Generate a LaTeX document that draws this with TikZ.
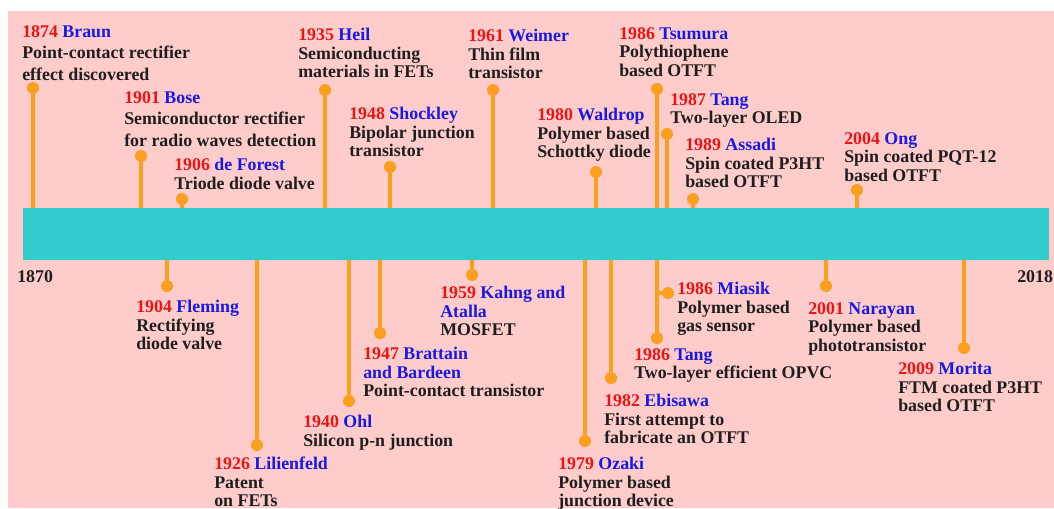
\documentclass[tikz,border=0pt]{standalone}
\usepackage{fontspec}
\setmainfont{Liberation Serif}
\usetikzlibrary{positioning}
\definecolor{pagebg}{RGB}{255,204,204}
\definecolor{barclr}{RGB}{51,204,204}
\definecolor{stemclr}{RGB}{250,160,30}
\definecolor{yrclr}{RGB}{235,20,20}
\definecolor{nameclr}{RGB}{25,25,225}
\definecolor{txtclr}{RGB}{30,30,30}
\newcommand{\evfont}{\fontsize{12.7}{13.2}\selectfont\bfseries}
\newcommand{\evfontw}{\fontsize{12.7}{15.3}\selectfont\bfseries}
\newcommand{\evhead}[2]{\textcolor{yrclr}{#1} \textcolor{nameclr}{#2}}
\tikzset{
  evdot/.style={circle,fill=stemclr,inner sep=0pt,minimum size=0.3cm},
  stem/.style={draw=stemclr,line width=2.2pt},
  evlbl/.style={anchor=north west,inner sep=0pt,align=left,
    font=\evfont,text=txtclr},
  evlblw/.style={evlbl,font=\evfontw},
  axlbl/.style={anchor=north west,inner sep=0pt,font=\evfont,text=txtclr},
  tlbar/.style={rectangle,fill=barclr,inner sep=0pt,
    minimum width=25.65cm,minimum height=1.3cm},
}
\begin{document}
\begin{tikzpicture}[x=0.025cm,y=-0.025cm]

  \useasboundingbox (0,0) rectangle (1054,508);
  \fill[pagebg] (8,11) rectangle (1054,508);

  \node[tlbar] (bar) at (536,234) {};
  \node[axlbl] (y1870) at (17,270) {1870};
  \node[axlbl] (y2018) at (1017,270) {2018};

  % events above the bar
  \node[evdot] (braun)    at (33,88)  {};
  \node[evdot] (bose)     at (141,156) {};
  \node[evdot] (forest)   at (182,199) {};
  \node[evdot] (heil)     at (325,90) {};
  \node[evdot] (shockley) at (390,167) {};
  \node[evdot] (weimer)   at (493,90) {};
  \node[evdot] (waldrop)  at (596,172) {};
  \node[evdot] (tsumura)  at (657,89) {};
  \node[evdot] (tangA)    at (667,134) {};
  \node[evdot] (assadi)   at (693,199) {};
  \node[evdot] (ong)      at (857,190) {};

  % events below the bar
  \node[evdot] (fleming)  at (167,286) {};
  \node[evdot] (lilien)   at (257,445) {};
  \node[evdot] (ohl)      at (349,401) {};
  \node[evdot] (brattain) at (380,333) {};
  \node[evdot] (kahng)    at (472,275) {};
  \node[evdot] (ozaki)    at (585,441) {};
  \node[evdot] (ebisawa)  at (611,378) {};
  \node[evdot] (tangB)    at (657,338) {};
  \node[evdot] (miasik)   at (668,293) {};
  \node[evdot] (narayan)  at (826,286) {};
  \node[evdot] (morita)   at (964,348) {};

  \foreach \ev in {braun,bose,forest,heil,shockley,weimer,waldrop,
                   tsumura,tangA,assadi,ong}
    \draw[stem] (\ev) -- (\ev |- bar.north);
  \foreach \ev in {fleming,lilien,ohl,brattain,kahng,ozaki,ebisawa,
                   tangB,narayan,morita}
    \draw[stem] (\ev) -- (\ev |- bar.south);
  \draw[stem] (miasik) -- (miasik -| tangB);

  \node[evlblw] (braunL) at (22,25)
    {\evhead{1874}{Braun}\\Point-contact rectifier\\effect discovered};
  \node[evlblw] (boseL) at (124,91)
    {\evhead{1901}{Bose}\\Semiconductor rectifier\\for radio waves detection};
  \node[evlbl] (forestL) at (174,158)
    {\evhead{1906}{de Forest}\\Triode diode valve};
  \node[evlbl] (heilL) at (298,28)
    {\evhead{1935}{Heil}\\Semiconducting\\materials in FETs};
  \node[evlbl] (shockleyL) at (349,107)
    {\evhead{1948}{Shockley}\\Bipolar junction\\transistor};
  \node[evlbl] (weimerL) at (468,29)
    {\evhead{1961}{Weimer}\\Thin film\\transistor};
  \node[evlbl] (waldropL) at (537,108)
    {\evhead{1980}{Waldrop}\\Polymer based\\Schottky diode};
  \node[evlbl] (tsumuraL) at (619,27)
    {\evhead{1986}{Tsumura}\\Polythiophene\\based OTFT};
  \node[evlbl] (tangAL) at (670,93)
    {\evhead{1987}{Tang}\\Two-layer OLED};
  \node[evlbl] (assadiL) at (685,138)
    {\evhead{1989}{Assadi}\\Spin coated P3HT\\based OTFT};
  \node[evlbl] (ongL) at (844,132)
    {\evhead{2004}{Ong}\\Spin coated PQT-12\\based OTFT};

  \node[evlbl] (flemingL) at (136,300)
    {\evhead{1904}{Fleming}\\Rectifying\\diode valve};
  \node[evlbl] (lilienL) at (214,457)
    {\evhead{1926}{Lilienfeld}\\Patent\\on FETs};
  \node[evlbl] (ohlL) at (303,415)
    {\evhead{1940}{Ohl}\\Silicon p-n junction};
  \node[evlbl] (brattainL) at (363,347)
    {\evhead{1947}{Brattain}\\\textcolor{nameclr}{and Bardeen}\\Point-contact transistor};
  \node[evlbl] (kahngL) at (440,286)
    {\evhead{1959}{Kahng and}\\\textcolor{nameclr}{Atalla}\\MOSFET};
  \node[evlbl] (ozakiL) at (558,457)
    {\evhead{1979}{Ozaki}\\Polymer based\\junction device};
  \node[evlbl] (ebisawaL) at (604,394)
    {\evhead{1982}{Ebisawa}\\First attempt to\\fabricate an OTFT};
  \node[evlbl] (tangBL) at (634,348)
    {\evhead{1986}{Tang}\\Two-layer efficient OPVC};
  \node[evlbl] (miasikL) at (677,282)
    {\evhead{1986}{Miasik}\\Polymer based\\gas sensor};
  \node[evlbl] (narayanL) at (808,302)
    {\evhead{2001}{Narayan}\\Polymer based\\phototransistor};
  \node[evlbl] (moritaL) at (898,362)
    {\evhead{2009}{Morita}\\FTM coated P3HT\\based OTFT};

\end{tikzpicture}
\end{document}
